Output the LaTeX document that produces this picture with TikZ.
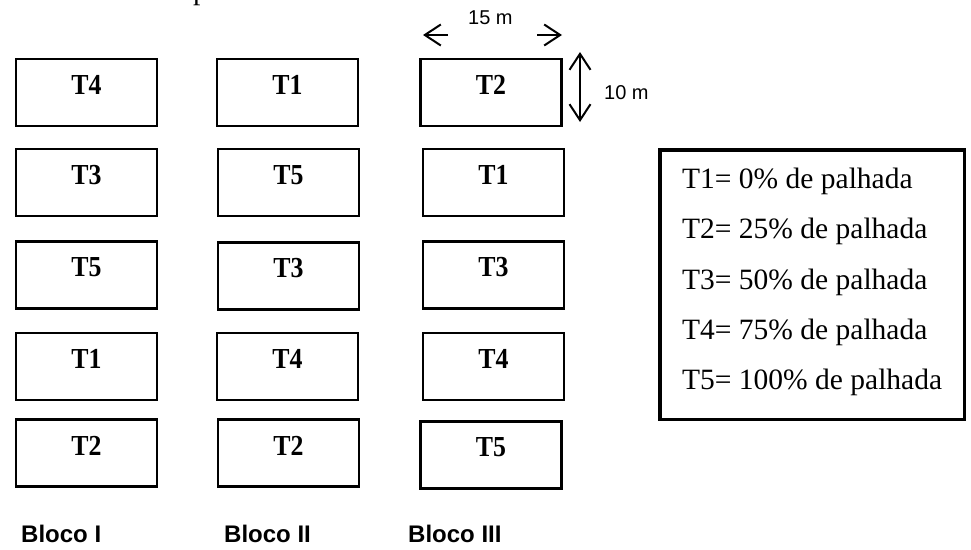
\documentclass[tikz,border=0pt]{standalone}
\usepackage{fontspec}
\setmainfont{Liberation Serif}
\setsansfont{Liberation Sans}
\usetikzlibrary{arrows.meta}
\tikzset{
  plot/.style={draw=black, line width=2.2pt, minimum width=141pt, minimum height=67pt, inner sep=0pt, fill=white},
  tlab/.style={font=\fontsize{29}{31}\selectfont\bfseries, inner sep=0pt, yshift=7.5pt},
  legline/.style={anchor=base west, inner sep=0pt, font=\fontsize{29.5}{31}\selectfont},
  dimtext/.style={anchor=base west, inner sep=0pt, font=\sffamily\fontsize{20}{22}\selectfont},
  bloco/.style={anchor=base west, inner sep=0pt, font=\sffamily\bfseries\fontsize{24}{26}\selectfont},
  barb/.tip={Straight Barb[length=16pt,width=21pt,line width=2pt]},
  dimarrow/.style={line width=2pt, -barb},
  dimarrows/.style={line width=2pt, barb-barb},
}
\newcommand{\tl}[1]{\scalebox{0.89}[1]{#1}}
\begin{document}
\begin{tikzpicture}[x=1pt,y=-1pt]
\useasboundingbox (0,0) rectangle (971,549);
% cut-off text fragment at the top
\node[anchor=base west, inner sep=0pt, font=\fontsize{29.5}{31}\selectfont] (frag) at (193,-1) {p};
% Bloco I
\node[plot, label={[tlab]center:\tl{T4}}] (a1) at (86.5,92.5) {};
\node[plot, label={[tlab]center:\tl{T3}}] (a2) at (86.5,182.5) {};
\node[plot, label={[tlab]center:\tl{T5}}] (a3) at (86.5,275) {};
\node[plot, label={[tlab]center:\tl{T1}}] (a4) at (86.5,366.5) {};
\node[plot, label={[tlab]center:\tl{T2}}] (a5) at (86.5,453) {};
% Bloco II
\node[plot, label={[tlab]center:\tl{T1}}] (b1) at (287.5,92.5) {};
\node[plot, label={[tlab]center:\tl{T5}}] (b2) at (288.5,182.5) {};
\node[plot, label={[tlab]center:\tl{T3}}] (b3) at (288.5,276) {};
\node[plot, label={[tlab]center:\tl{T4}}] (b4) at (287.5,366.5) {};
\node[plot, label={[tlab]center:\tl{T2}}] (b5) at (288.5,453) {};
% Bloco III
\node[plot, label={[tlab]center:\tl{T2}}] (c1) at (491,92.5) {};
\node[plot, label={[tlab]center:\tl{T1}}] (c2) at (493.5,182.5) {};
\node[plot, label={[tlab]center:\tl{T3}}] (c3) at (493.5,275) {};
\node[plot, label={[tlab]center:\tl{T4}}] (c4) at (493.5,366.5) {};
\node[plot, label={[tlab]center:\tl{T5}}] (c5) at (491,455) {};
% dimensions
\coordinate (hl0) at (448,35);
\coordinate (hl1) at (423,35);
\coordinate (hr0) at (537,35);
\coordinate (hr1) at (562,35);
\draw[dimarrow] (hl0) -- (hl1);
\draw[dimarrow] (hr0) -- (hr1);
\node[dimtext] (w) at (468,24) {15 m};
\coordinate (vt) at (580,52);
\coordinate (vb) at (580,122);
\draw[dimarrows] (vt) -- (vb);
\node[dimtext] (h) at (604,99) {10 m};
% legend
\node[draw=black, line width=3.5pt, minimum width=304.5pt, minimum height=269.5pt, inner sep=0pt] (legend) at (812,284.5) {};
\node[legline] (l1) at (682,188.5) {T1= 0\% de palhada};
\node[legline] (l2) at (682,238.5) {T2= 25\% de palhada};
\node[legline] (l3) at (682,289) {T3= 50\% de palhada};
\node[legline] (l4) at (682,339) {T4= 75\% de palhada};
\node[legline] (l5) at (682,389.5) {T5= 100\% de palhada};
% block labels
\node[bloco] (bl1) at (21,542) {Bloco I};
\node[bloco] (bl2) at (224,542) {Bloco II};
\node[bloco] (bl3) at (408,542) {Bloco III};
\end{tikzpicture}
\end{document}
